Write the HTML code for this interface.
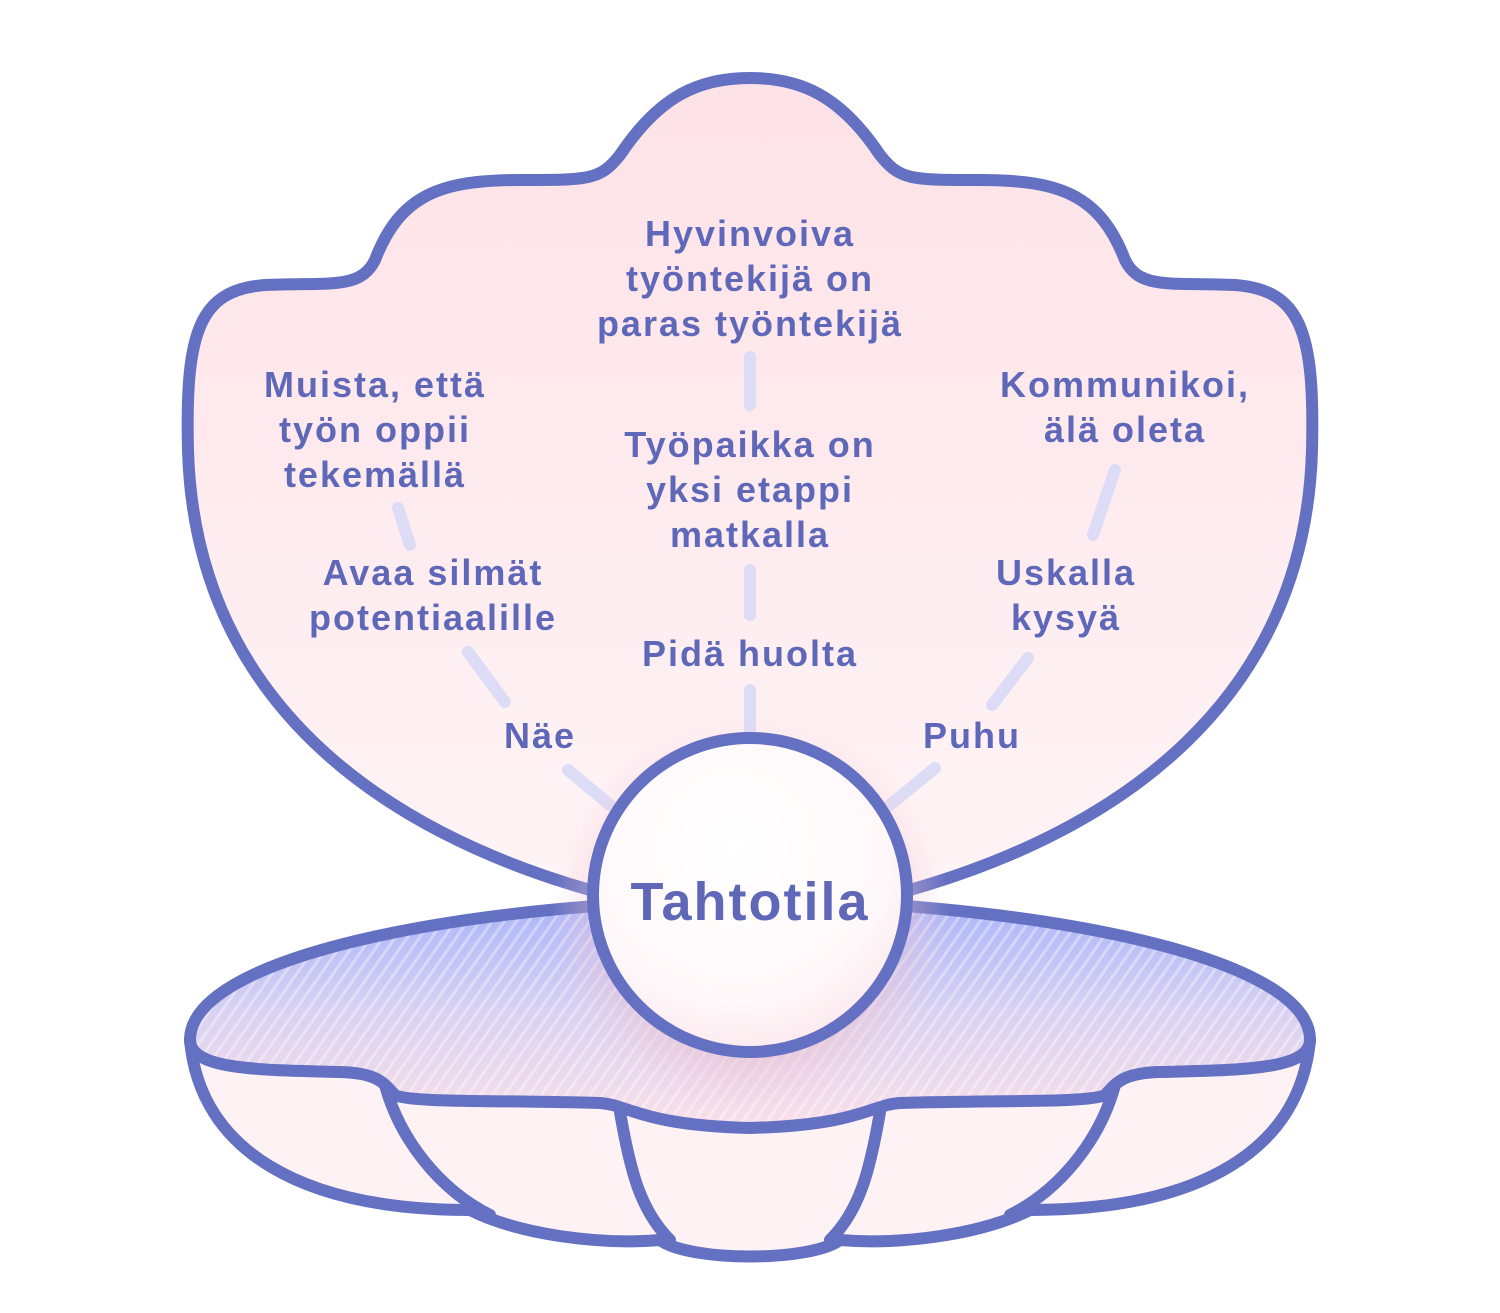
<!DOCTYPE html>
<html><head><meta charset="utf-8"><style>
html,body{margin:0;padding:0;background:#fff;}
svg{display:block}
text{font-family:"Liberation Sans",sans-serif;font-weight:bold;fill:#5f68b8;text-anchor:middle;letter-spacing:2px;}
</style></head><body>
<svg width="1500" height="1313" viewBox="0 0 1500 1313" xmlns="http://www.w3.org/2000/svg">
<defs>
<linearGradient id="pk" x1="0" y1="0" x2="0" y2="1">
<stop offset="0" stop-color="#fde2e7"/><stop offset="1" stop-color="#fff4f6"/></linearGradient>
<linearGradient id="bw" x1="0" y1="0" x2="0" y2="1">
<stop offset="0" stop-color="#aab4fa"/><stop offset="0.5" stop-color="#d9d2f2"/><stop offset="1" stop-color="#fae0e8"/></linearGradient>
<pattern id="ht" width="10" height="10" patternUnits="userSpaceOnUse" patternTransform="rotate(35)">
<rect width="3" height="10" fill="#ffffff" opacity="0.35"/></pattern>
<radialGradient id="glow" cx="0.5" cy="0.5" r="0.5">
<stop offset="0.6" stop-color="#e8b8c8" stop-opacity="0.7"/><stop offset="1" stop-color="#f5d0dc" stop-opacity="0"/></radialGradient>
<radialGradient id="pearl" cx="0.45" cy="0.35" r="0.7">
<stop offset="0" stop-color="#ffffff"/><stop offset="0.7" stop-color="#fff8fa"/><stop offset="1" stop-color="#fbe6ec"/></radialGradient>
</defs>
<path d="M590,890 C380,830 195,700 188,450 C185,330 200,290 265,285 C330,282 360,290 375,260 C400,195 440,180 520,180 C590,180 600,180 620,155 C660,95 700,78 750,78 C800,78 840,95 880,155 C900,180 910,180 980,180 C1060,180 1100,195 1125,260 C1140,290 1170,282 1235,285 C1300,290 1315,330 1312,450 C1305,700 1120,830 910,890" fill="url(#pk)" stroke="#6470c2" stroke-width="12" stroke-linejoin="round"/>
<path d="M190,1040 C200,1150 300,1210 470,1210 C520,1235 600,1245 660,1240 C690,1262 810,1262 840,1240 C900,1245 980,1235 1030,1210 C1200,1210 1300,1150 1310,1040 Z" fill="#fff2f4" stroke="#6470c2" stroke-width="12" stroke-linejoin="round"/>
<g fill="none" stroke="#6470c2" stroke-width="12" stroke-linecap="round">
<path d="M385,1085 C400,1140 440,1190 490,1215"/>
<path d="M620,1112 C630,1170 640,1210 670,1240"/>
<path d="M880,1112 C870,1170 860,1210 830,1240"/>
<path d="M1115,1085 C1100,1140 1060,1190 1010,1215"/>
</g>
<path d="M190,1040 C190,950 500,900 750,900 C1000,900 1310,950 1310,1040 C1310,1070 1240,1070 1160,1072 C1120,1073 1115,1085 1105,1095 C1090,1103 1000,1100 900,1103 C870,1105 860,1125 750,1128 C640,1125 630,1105 600,1103 C500,1100 410,1103 395,1095 C385,1085 380,1073 340,1072 C260,1070 190,1070 190,1040 Z" fill="url(#bw)"/>
<path d="M190,1040 C190,950 500,900 750,900 C1000,900 1310,950 1310,1040 C1310,1070 1240,1070 1160,1072 C1120,1073 1115,1085 1105,1095 C1090,1103 1000,1100 900,1103 C870,1105 860,1125 750,1128 C640,1125 630,1105 600,1103 C500,1100 410,1103 395,1095 C385,1085 380,1073 340,1072 C260,1070 190,1070 190,1040 Z" fill="url(#ht)" stroke="#6470c2" stroke-width="12" stroke-linejoin="round"/>
<g stroke="#dcdcf6" stroke-width="12" stroke-linecap="round" fill="none">
<line x1="750" y1="357" x2="750" y2="405"/>
<line x1="750" y1="570" x2="750" y2="615"/>
<line x1="750" y1="690" x2="750" y2="735"/>
<line x1="398" y1="508" x2="410" y2="545"/>
<line x1="468" y1="652" x2="505" y2="702"/>
<line x1="568" y1="770" x2="610" y2="805"/>
<line x1="1115" y1="470" x2="1093" y2="535"/>
<line x1="1028" y1="658" x2="992" y2="705"/>
<line x1="935" y1="768" x2="890" y2="805"/>
</g>
<circle cx="750" cy="915" r="200" fill="url(#glow)"/>
<circle cx="750" cy="895" r="157" fill="url(#pearl)" stroke="#6470c2" stroke-width="12"/>
<g font-size="36">
<text x="750" y="246">Hyvinvoiva</text>
<text x="750" y="291">työntekijä on</text>
<text x="750" y="336">paras työntekijä</text>
<text x="375" y="397">Muista, että</text>
<text x="375" y="442">työn oppii</text>
<text x="375" y="487">tekemällä</text>
<text x="1125" y="397">Kommunikoi,</text>
<text x="1125" y="442">älä oleta</text>
<text x="750" y="457">Työpaikka on</text>
<text x="750" y="502">yksi etappi</text>
<text x="750" y="547">matkalla</text>
<text x="433" y="585">Avaa silmät</text>
<text x="433" y="630">potentiaalille</text>
<text x="1066" y="585">Uskalla</text>
<text x="1066" y="630">kysyä</text>
<text x="750" y="666">Pidä huolta</text>
<text x="540" y="748">Näe</text>
<text x="972" y="748">Puhu</text>
</g>
<text x="750" y="920" font-size="54">Tahtotila</text>
</svg>
</body></html>
